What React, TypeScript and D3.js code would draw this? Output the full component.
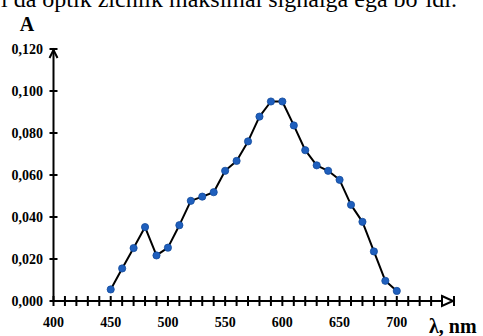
import * as d3 from 'd3'
import { useEffect, useRef } from 'react'

// spectrum: wavelength (nm) vs absorbance
const wavelengths = [450, 460, 470, 480, 490, 500, 510, 520, 530, 540, 550, 560, 570, 580, 590, 600, 610, 620, 630, 640, 650, 660, 670, 680, 690, 700]
const absorbance = [0.0055, 0.0155, 0.0252, 0.0352, 0.0217, 0.0254, 0.0361, 0.0477, 0.0497, 0.0518, 0.062, 0.0667, 0.076, 0.0878, 0.095, 0.095, 0.0836, 0.0718, 0.0646, 0.062, 0.0577, 0.0458, 0.0377, 0.0236, 0.0096, 0.0048]
const yTicks = [0, 0.02, 0.04, 0.06, 0.08, 0.1, 0.12]
const xLabels = [400, 450, 500, 550, 600, 650, 700]
const captionText = 'l da optik zichlik maksimal signalga ega bo‘ldi.'

const W = 483
const H = 336
const serif = '"Liberation Serif", "Times New Roman", serif'

export default function App() {
  const ref = useRef<SVGSVGElement>(null)

  useEffect(() => {
    const svg = d3.select(ref.current)
    svg.selectAll('*').remove()

    const x = d3.scaleLinear().domain([400, 750]).range([53.5, 454])
    const y = d3.scaleLinear().domain([0, 0.12]).range([301, 49])
    const fmt = (v: number) => d3.format('.3f')(v).replace('.', ',')

    // cut-off text line at the top (continuation of the page text)
    svg.append('text')
      .attr('x', 1).attr('y', 7)
      .attr('font-family', serif).attr('font-size', 24)
      .attr('fill', '#000')
      .text(captionText)

    // axis title A
    svg.append('text')
      .attr('x', 27).attr('y', 31)
      .attr('text-anchor', 'middle')
      .attr('font-family', serif).attr('font-size', 20).attr('font-weight', 'bold')
      .text('A')

    const axes = svg.append('g').attr('stroke', '#000').attr('stroke-width', 2).attr('fill', 'none')

    // y axis
    axes.append('line').attr('x1', x(400)).attr('x2', x(400)).attr('y1', y(0)).attr('y2', y(0.12))
    axes.selectAll('.yt').data(yTicks).enter().append('line')
      .attr('x1', x(400) - 4).attr('x2', x(400) + 4)
      .attr('y1', d => y(d)).attr('y2', d => y(d))
    axes.append('path')
      .attr('d', `M${x(400) - 4},${y(0.12) + 9}L${x(400)},${y(0.12) + 1}L${x(400) + 4},${y(0.12) + 9}`)

    // x axis
    axes.append('line').attr('x1', x(400)).attr('x2', x(750)).attr('y1', y(0)).attr('y2', y(0))
    axes.selectAll('.xt').data(d3.range(400, 751, 10)).enter().append('line')
      .attr('x1', d => x(d)).attr('x2', d => x(d))
      .attr('y1', y(0) - 5).attr('y2', y(0) + 5)
    axes.append('path')
      .attr('fill', '#fff')
      .attr('d', `M${x(750) - 12},${y(0) - 5}L${x(750) - 1},${y(0)}L${x(750) - 12},${y(0) + 5}Z`)

    // tick labels
    svg.append('g').selectAll('text').data(yTicks).enter().append('text')
      .attr('x', 43).attr('y', d => y(d) + 5)
      .attr('text-anchor', 'end')
      .attr('font-family', serif).attr('font-size', 14).attr('font-weight', 'bold')
      .text(d => fmt(d))

    svg.append('g').selectAll('text').data(xLabels).enter().append('text')
      .attr('x', d => x(d)).attr('y', 327)
      .attr('text-anchor', 'middle')
      .attr('font-family', serif).attr('font-size', 14).attr('font-weight', 'bold')
      .text(d => d)

    svg.append('text')
      .attr('x', 429).attr('y', 333)
      .attr('font-family', serif).attr('font-size', 20).attr('font-weight', 'bold')
      .text('λ, nm')

    // spectrum line
    const pts = wavelengths.map((w, i) => [w, absorbance[i]] as [number, number])
    const line = d3.line<[number, number]>().x(d => x(d[0])).y(d => y(d[1]))
    svg.append('path')
      .datum(pts)
      .attr('d', line)
      .attr('fill', 'none')
      .attr('stroke', '#000')
      .attr('stroke-width', 2)
      .attr('stroke-linejoin', 'round')

    svg.append('g').selectAll('circle').data(pts).enter().append('circle')
      .attr('cx', d => x(d[0])).attr('cy', d => y(d[1]))
      .attr('r', 3.6)
      .attr('fill', '#1f5fbd')
      .attr('stroke', '#124a9c')
      .attr('stroke-width', 0.8)
  }, [])

  return (
    <>
      <style>{'body{margin:0;background:#fff}'}</style>
      <svg ref={ref} width={W} height={H} style={{ display: 'block' }} />
    </>
  )
}
